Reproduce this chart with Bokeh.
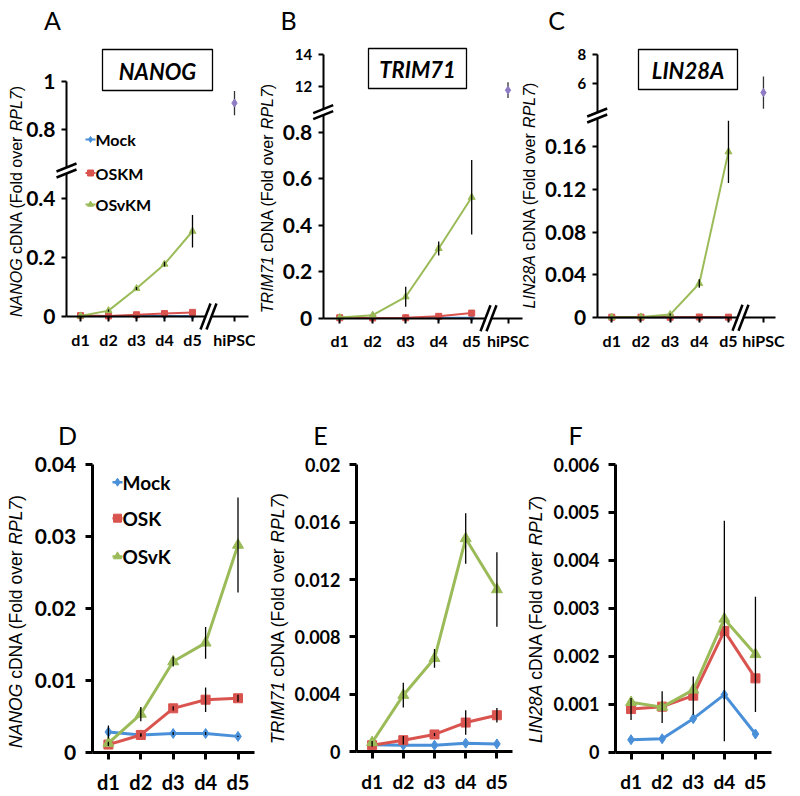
import math
from bokeh.plotting import figure
from bokeh.models import Range1d, LinearAxis, FixedTicker
from bokeh.layouts import column, row
from bokeh.embed import file_html
from bokeh.resources import INLINE
from bokeh.core.properties import value

# ---------------- data ----------------
days = ["d1", "d2", "d3", "d4", "d5"]
hipsc_name = "hiPSC"
day_x = [1, 2, 3, 4, 5]
top_names = ["Mock", "OSKM", "OSvKM"]
bottom_names = ["Mock", "OSK", "OSvK"]
genes = ["NANOG", "TRIM71", "LIN28A"]
letters = ["A", "B", "C", "D", "E", "F"]

# A  NANOG (OSKM set)
a_mock = [0.002, 0.001, 0.002, 0.002, 0.001]
a_oskm = [0.003, 0.002, 0.006, 0.010, 0.014]
a_osvkm = [0.002, 0.020, 0.095, 0.178, 0.290]
a_osvkm_err = [0.0, 0.004, 0.005, 0.008, 0.055]
a_hipsc, a_hipsc_err = 0.91, 0.05
a_ticks_low = [0, 0.2, 0.4]
a_ticks_high = [0.8, 1]

# B  TRIM71
b_mock = [0.001, 0.001, 0.001, 0.002, 0.002]
b_oskm = [0.002, 0.001, 0.002, 0.008, 0.022]
b_osvkm = [0.003, 0.013, 0.092, 0.300, 0.520]
b_osvkm_err = [0.0, 0.0, 0.043, 0.030, 0.160]
b_hipsc, b_hipsc_err = 11.75, 0.5
b_ticks_low = [0, 0.2, 0.4, 0.6, 0.8]
b_ticks_high = [12, 14]

# C  LIN28A
c_mock = [0.0003, 0.0003, 0.0003, 0.0003, 0.0003]
c_oskm = [0.0006, 0.0006, 0.0005, 0.0007, 0.0006]
c_osvkm = [0.0005, 0.0008, 0.0030, 0.0320, 0.1550]
c_osvkm_err = [0.0, 0.0, 0.001, 0.004, 0.029]
c_hipsc, c_hipsc_err = 5.4, 1.1
c_ticks_low = [0, 0.04, 0.08, 0.12, 0.16]
c_ticks_high = [6, 8]

# D  NANOG (OSK set)
d_mock = [0.0028, 0.0024, 0.0026, 0.0026, 0.0022]
d_mock_err = [0.0009, 0.0002, 0.0002, 0.0002, 0.0001]
d_osk = [0.00106, 0.0024, 0.0061, 0.0073, 0.0075]
d_osk_err = [0.0002, 0.0002, 0.0003, 0.0017, 0.0005]
d_osvk = [0.00125, 0.0053, 0.0126, 0.0152, 0.0288]
d_osvk_err = [0.0002, 0.0010, 0.0007, 0.0022, 0.0066]
d_ticks = [0, 0.01, 0.02, 0.03, 0.04]

# E  TRIM71
e_mock = [0.00047, 0.00044, 0.00044, 0.00058, 0.00053]
e_mock_err = [0.0, 0.0, 0.0, 0.0, 0.0]
e_osk = [0.00044, 0.00079, 0.00119, 0.00202, 0.00253]
e_osk_err = [0.0001, 0.0003, 0.0001, 0.00086, 0.0005]
e_osvk = [0.00063, 0.00393, 0.0065, 0.01486, 0.0113]
e_osvk_err = [0.0001, 0.00086, 0.00066, 0.00176, 0.0026]
e_ticks = [0, 0.004, 0.008, 0.012, 0.016, 0.02]

# F  LIN28A
f_mock = [0.00026, 0.00028, 0.0007, 0.0012, 0.00038]
f_mock_err = [0.0, 0.0, 0.0, 0.0, 0.0]
f_osk = [0.0009, 0.00095, 0.00118, 0.00253, 0.00154]
f_osk_err = [0.00023, 0.0, 0.0004, 0.0023, 0.0]
f_osvk = [0.00104, 0.00094, 0.0013, 0.00278, 0.00204]
f_osvk_err = [0.0, 0.00033, 0.0, 0.0, 0.0012]
f_ticks = [0, 0.001, 0.002, 0.003, 0.004, 0.005, 0.006]

# ---------------- style ----------------
COLORS = ["#4A90D9", "#D9534F", "#9BBB59"]
MARKERS = ["diamond", "square", "triangle"]
HIPSC_COLOR = "#8F7CC4"
TICK_FONT = "Lato"
LABEL_FONT = "Liberation Sans"

ARIAL_W = {' ': 278, 'c': 500, 'D': 722, 'N': 722, 'A': 667, '(': 333, 'F': 611, 'o': 556,
           'l': 222, 'd': 556, 'v': 500, 'e': 556, 'r': 333, ')': 333, 'R': 722, 'P': 667,
           'L': 556, '7': 556, 'O': 778, 'G': 778, 'T': 611, 'I': 278, 'M': 833, '1': 556,
           '2': 556, '8': 556}


def tw(s, size):
    return sum(ARIAL_W.get(ch, 556) for ch in s) / 1000.0 * size


def fmt(v):
    return f"{v:g}"


class Panel:
    def __init__(self, L, T, W, H, ax, y0, sx, k):
        self.L, self.T, self.ax, self.y0, self.sx, self.k = L, T, ax, y0, sx, k
        xs = 0.5 - (ax - L) / sx
        ys = -(T + H - y0) / k
        self.xs = xs
        self.p = figure(width=W, height=H, x_range=Range1d(xs, xs + W / sx),
                        y_range=Range1d(ys, ys + H / k), x_axis_type=None, y_axis_type=None,
                        toolbar_location=None, output_backend="svg", min_border=0, title=None)
        self.p.outline_line_color = None

    def X(self, px):
        return self.xs + (px - self.L) / self.sx

    def Y(self, py):
        return (self.y0 - py) / self.k

    def text(self, px, py, s, size, style="normal", align="center", font=TICK_FONT, angle=0.0):
        self.p.text(x=[self.X(px)], y=[self.Y(py)], text=[s], angle=angle, text_align=align,
                    text_baseline="middle", text_font=value(font), text_font_size=f"{size}px",
                    text_font_style=style, text_color="black")

    def axis_label(self, gene, cx, cy, size):
        segs = [(gene, "italic"), ("cDNA (Fold over", "normal"), ("RPL7", "italic"), (")", "normal")]
        gaps = [tw(" ", size), tw(" ", size), 0.0, 0.0]
        total = sum(tw(s, size) for s, _ in segs) + sum(gaps)
        cur = cy + total / 2.0
        for (s, st), g in zip(segs, gaps):
            self.text(cx, cur, s, size, style=st, align="left", font=LABEL_FONT, angle=math.pi / 2)
            cur -= tw(s, size) + g

    def ybreak(self, cy, lw):
        cx = self.ax
        d = 3.0
        xs_ = [cx - 10, cx + 10, cx + 10, cx - 10]
        ys_ = [cy + 4 + d, cy - 4 + d, cy - 4 - d, cy + 4 - d]
        self.p.patch([self.X(v) for v in xs_], [self.Y(v) for v in ys_], fill_color="white",
                     line_color=None, level="overlay")
        for s in (-d, d):
            self.p.line([self.X(cx - 10), self.X(cx + 10)], [self.Y(cy + 4 + s), self.Y(cy - 4 + s)],
                        line_color="black", line_width=lw, level="overlay")

    def xbreak(self, cx, lw):
        cy = self.y0
        d = 3.0
        xs_ = [cx - 5 - d, cx + 5 - d, cx + 5 + d, cx - 5 + d]
        ys_ = [cy + 13, cy - 13, cy - 13, cy + 13]
        self.p.patch([self.X(v) for v in xs_], [self.Y(v) for v in ys_], fill_color="white",
                     line_color=None, level="overlay")
        for s in (-d, d):
            self.p.line([self.X(cx - 5 + s), self.X(cx + 5 + s)], [self.Y(cy + 13), self.Y(cy - 13)],
                        line_color="black", line_width=lw, level="overlay")


def make_axis(ticks, labels, bounds, loc, font_size, lw, tick_out, standoff, line=True):
    a = LinearAxis(fixed_location=loc, bounds=bounds, ticker=FixedTicker(ticks=list(ticks)),
                   major_label_overrides={t: l for t, l in zip(ticks, labels)},
                   axis_line_width=lw, axis_line_color="black" if line else None,
                   major_tick_line_width=lw, major_tick_in=0, major_tick_out=tick_out,
                   minor_tick_in=0, minor_tick_out=0, major_label_standoff=standoff,
                   major_label_text_font=TICK_FONT, major_label_text_font_style="bold",
                   major_label_text_font_size=f"{font_size}px", major_label_text_color="black")
    return a


def draw_series(P, ys, errs, lw, msizes):
    p = P.p
    for i, y in enumerate(ys):
        p.line(day_x, y, line_color=COLORS[i], line_width=lw)
        p.scatter(day_x, y, marker=MARKERS[i], size=msizes[i], fill_color=COLORS[i],
                  line_color=COLORS[i])
    for i, y in enumerate(ys):
        e = errs[i]
        if e is None:
            continue
        x0 = [x for x, ee in zip(day_x, e) if ee > 0]
        lo = [v - ee for v, ee in zip(y, e) if ee > 0]
        hi = [v + ee for v, ee in zip(y, e) if ee > 0]
        p.segment(x0=x0, y0=lo, x1=x0, y1=hi, line_color="black", line_width=1.3)


def draw_legend(P, legend, lw, msize):
    mx, rows, fs, names = legend
    for i, (name, ry) in enumerate(zip(names, rows)):
        P.p.line([P.X(mx - 5), P.X(mx + 5)], [P.Y(ry), P.Y(ry)], line_color=COLORS[i], line_width=lw)
        P.p.scatter([P.X(mx)], [P.Y(ry)], marker=MARKERS[i], size=msize, fill_color=COLORS[i],
                    line_color=COLORS[i])
        P.text(mx + 5, ry, name, fs, style="bold", align="left")


def top_panel(geo, letter, letter_pos, gene, title_box, label_c, ys, errs, hipsc, hipsc_err,
              t_low, t_high, high_px, brk_px, hx, xend, xbrk_px, upper_font, legend=None):
    P = Panel(*geo)
    p = P.p
    cut = P.Y(brk_px)
    d_lo, d_hi = P.Y(high_px[0]), P.Y(high_px[1])
    v_lo, v_hi = t_high[0], t_high[-1]

    def tf(v):
        if v <= cut:
            return v
        return d_lo + (v - v_lo) * (d_hi - d_lo) / (v_hi - v_lo)

    ytop = tf(t_high[-1])
    p.add_layout(make_axis([tf(v) for v in t_low], [fmt(v) for v in t_low], (0, ytop + 1e-9), 0.5,
                           21, 2, 5, 6), "left")
    p.add_layout(make_axis([tf(v) for v in t_high], [fmt(v) for v in t_high], (0, ytop + 1e-9), 0.5,
                           upper_font, 2, 5, 6, line=False), "left")
    xt = day_x + [hx]
    p.add_layout(make_axis(xt, days + [hipsc_name], (0.5, xend), 0, 16, 2, 5, 8), "below")

    draw_series(P, ys, errs, 2, [7, 6, 7])
    # hiPSC
    p.segment(x0=[hx], y0=[tf(hipsc - hipsc_err)], x1=[hx], y1=[tf(hipsc + hipsc_err)],
              line_color="#333333", line_width=1.3)
    p.scatter([hx], [tf(hipsc)], marker="diamond", size=8, fill_color=HIPSC_COLOR,
              line_color=HIPSC_COLOR)

    P.ybreak(brk_px, 2.5)
    P.xbreak(xbrk_px, 2.5)

    x0, x1, y0, y1 = title_box
    p.quad(left=[P.X(x0)], right=[P.X(x1)], top=[P.Y(y0)], bottom=[P.Y(y1)], fill_color="white",
           line_color="black", line_width=1.3)
    P.text((x0 + x1) / 2, (y0 + y1) / 2 + 1, gene, 22, style="bold italic")
    P.text(letter_pos[0], letter_pos[1], letter, 25)
    if label_c is not None:
        P.axis_label(gene, label_c[0], label_c[1], 16)
    if legend:
        draw_legend(P, legend, 2, 6)
    return P


def bottom_panel(geo, letter, letter_pos, gene, label_c, ys, errs, ticks, yfont, xfont, legend=None):
    P = Panel(*geo)
    p = P.p
    p.add_layout(make_axis(ticks, [fmt(v) for v in ticks], (0, ticks[-1] + 1e-12), 0.5,
                           yfont, 3, 7, 9), "left")
    p.add_layout(make_axis(day_x, days, (0.5, 5.5), 0, xfont, 3, 7, 11), "below")
    draw_series(P, ys, errs, 3, [10, 9, 11])
    P.text(letter_pos[0], letter_pos[1], letter, 25)
    P.axis_label(gene, label_c[0], label_c[1], 17.5)
    if legend:
        draw_legend(P, legend, 2.5, 8)
    return P


PA = top_panel((0, 0, 255, 400, 66, 316, 28, 294), letters[0], (52, 19), genes[0],
               (102, 212, 49, 90), (16, 201), [a_mock, a_oskm, a_osvkm], [None, None, a_osvkm_err],
               a_hipsc, a_hipsc_err, a_ticks_low, a_ticks_high, (129.3, 80.7), 170, 6.5, 7.0, 208, 21,
               legend=(90, [139, 172.5, 204], 16, top_names))
PB = top_panel((255, 0, 290, 400, 322.7, 317.7, 33, 232.5), letters[1], (288, 19), genes[1],
               (368, 466, 48, 88), (267, 198), [b_mock, b_oskm, b_osvkm], [None, None, b_osvkm_err],
               b_hipsc, b_hipsc_err, b_ticks_low, b_ticks_high, (85.7, 54), 111.7, 6.1, 6.55, 488, 15)
PC = top_panel((545, 0, 255, 400, 596.7, 317.3, 29.17, 1070.8), letters[2], (556, 19), genes[2],
               (638, 737, 49, 89), None, [c_mock, c_oskm, c_osvkm], [None, None, c_osvkm_err],
               c_hipsc, c_hipsc_err, c_ticks_low, c_ticks_high, (83.3, 54), 115, 6.2, 6.6, 740, 15)
# the y-axis title of panel C lies left of panel C's canvas, inside panel B's area
PB.axis_label(genes[2], 529, 195, 16)

PD = bottom_panel((0, 400, 266, 394, 91.7, 751.7, 32.4, 7192.5), letters[3], (67, 434), genes[0],
                  (15, 621), [d_mock, d_osk, d_osvk], [d_mock_err, d_osk_err, d_osvk_err], d_ticks,
                  21, 20, legend=(117, [481.7, 517.7, 556], 19, bottom_names))
PE = bottom_panel((266, 400, 258, 394, 356, 751, 31.2, 14333), letters[4], (320, 434), genes[1],
                  (277, 618), [e_mock, e_osk, e_osvk], [e_mock_err, e_osk_err, e_osvk_err], e_ticks,
                  18, 19)
PF = bottom_panel((524, 400, 276, 394, 615, 751.7, 31.1, 47944), letters[5], (575, 434), genes[2],
                  (535, 619), [f_mock, f_osk, f_osvk], [f_mock_err, f_osk_err, f_osvk_err], f_ticks,
                  18, 19)

layout = column(row(PA.p, PB.p, PC.p, spacing=0), row(PD.p, PE.p, PF.p, spacing=0), spacing=0)
open("out.html", "w").write(file_html(layout, INLINE))
